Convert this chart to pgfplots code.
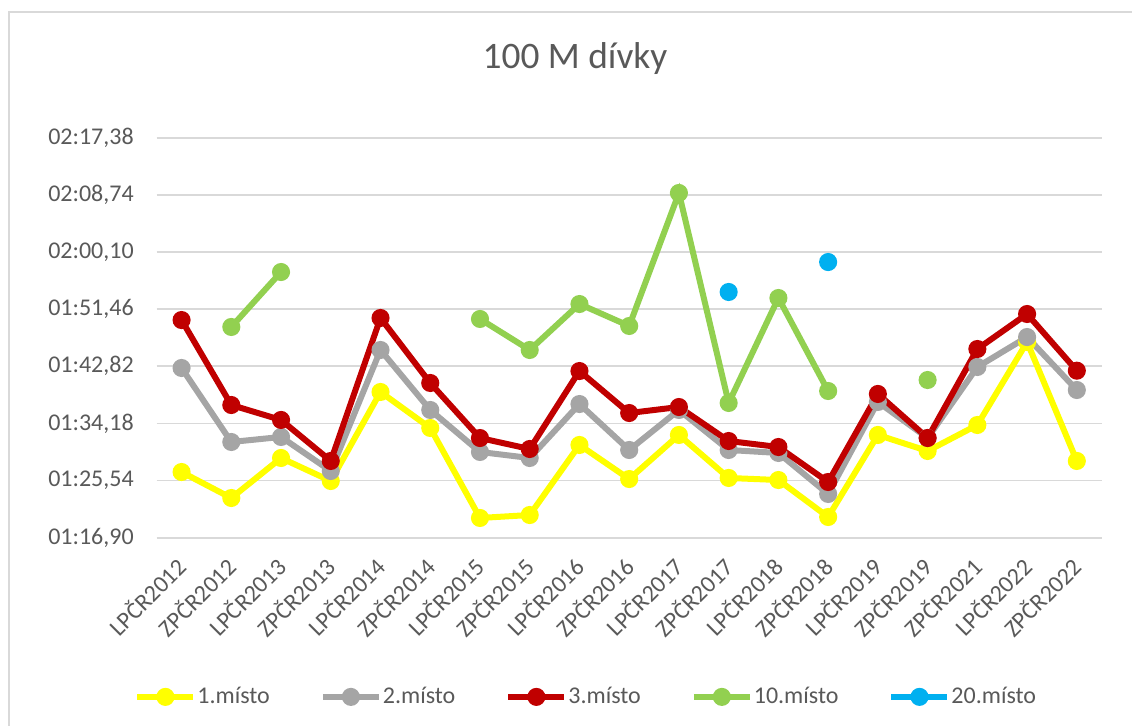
\documentclass[border=0pt]{standalone}
\usepackage{fontspec}
\setmainfont{Carlito}
\usepackage{pgfplots}
\usepackage{pgfplotstable}
\pgfplotsset{compat=1.18}
\definecolor{cYellow}{HTML}{FFFF00}
\definecolor{cGray}{HTML}{A5A5A5}
\definecolor{cRed}{HTML}{C00000}
\definecolor{cGreen}{HTML}{92D050}
\definecolor{cBlue}{HTML}{00B0F0}
\definecolor{cText}{HTML}{595959}
\definecolor{cGrid}{HTML}{D9D9D9}
\pgfplotstableread{
cat y1 y2 y3 y10 y20
0 86.83 102.56 109.81 nan nan
1 82.90 91.37 96.96 108.76 nan
2 88.95 92.13 94.70 117.07 nan
3 85.47 86.98 88.50 nan nan
4 98.93 105.28 110.12 nan nan
5 93.49 96.21 100.29 nan nan
6 79.88 89.86 91.97 109.97 nan
7 80.33 88.95 90.31 105.28 nan
8 90.92 97.11 102.10 112.23 nan
9 85.77 90.16 95.75 108.91 nan
10 92.43 96.21 96.66 129.02 nan
11 85.93 90.16 91.52 97.27 114.05
12 85.62 89.71 90.61 113.14 nan
13 80.03 83.51 85.32 99.08 118.58
14 92.43 97.42 98.63 nan nan
15 90.01 91.97 91.97 100.74 nan
16 93.94 102.71 105.43 nan nan
17 106.49 107.24 110.72 nan nan
18 88.50 99.23 102.15 nan nan
}\datatable
\begin{document}
\begin{tikzpicture}
\path[use as bounding box] (0,0) rectangle (566pt,363pt);
\draw[cGrid, line width=1pt] (4.5pt,-1pt) -- (4.5pt,357pt) -- (567pt,357pt);
\node[anchor=base, text=cText, font=\fontsize{18.7}{22}\selectfont] at (287.5pt,328.85pt) {100 M dívky};
\begin{axis}[
  at={(78.35pt,94.15pt)}, anchor=south west,
  width=472.5pt, height=200pt, scale only axis,
  xmin=-0.5, xmax=18.5,
  ymin=76.90, ymax=137.38,
  xtick={0,...,18},
  xticklabels={LPČR2012,ZPČR2012,LPČR2013,ZPČR2013,LPČR2014,ZPČR2014,LPČR2015,ZPČR2015,LPČR2016,ZPČR2016,LPČR2017,ZPČR2017,LPČR2018,ZPČR2018,LPČR2019,ZPČR2019,ZPČR2021,LPČR2022,ZPČR2022},
  ytick={76.90,85.54,94.18,102.82,111.46,120.10,128.74,137.38},
  yticklabels={{01:16,90},{01:25,54},{01:34,18},{01:42,82},{01:51,46},{02:00,10},{02:08,74},{02:17,38}},
  ymajorgrids, grid style={cGrid, line width=0.9pt},
  axis line style={draw=none}, tick style={draw=none},
  ticklabel style={font=\fontsize{12}{14}\selectfont, text=cText, inner sep=0pt},
  xticklabel style={rotate=45, anchor=east},
  yticklabel style={anchor=east},
  xticklabel shift=12pt, yticklabel shift=11.3pt,
  unbounded coords=jump,
  every axis plot/.append style={line width=3pt, mark=*, mark size=3pt, mark options={solid}},
  legend columns=5,
  legend image code/.code={\draw[mark repeat=2,mark phase=2] plot coordinates {(0pt,0pt) (14pt,0pt) (28pt,0pt)};},
  legend style={at={(-0.024,-0.398)}, anchor=west, draw=none, fill=none, inner sep=0pt,
    font=\fontsize{12}{14}\selectfont, text=cText,
    /tikz/every odd column/.append style={column sep=0.5pt},
    /tikz/every even column/.append style={column sep=25pt},
    nodes={inner sep=0pt}},
]
\addplot[cYellow] table[x=cat, y=y1] {\datatable};
\addlegendentry{1.místo}
\addplot[cGray] table[x=cat, y=y2] {\datatable};
\addlegendentry{2.místo}
\addplot[cRed] table[x=cat, y=y3] {\datatable};
\addlegendentry{3.místo}
\addplot[cGreen] table[x=cat, y=y10] {\datatable};
\addlegendentry{10.místo}
\addplot[cBlue] table[x=cat, y=y20] {\datatable};
\addlegendentry{20.místo}
\end{axis}
\end{tikzpicture}
\end{document}
